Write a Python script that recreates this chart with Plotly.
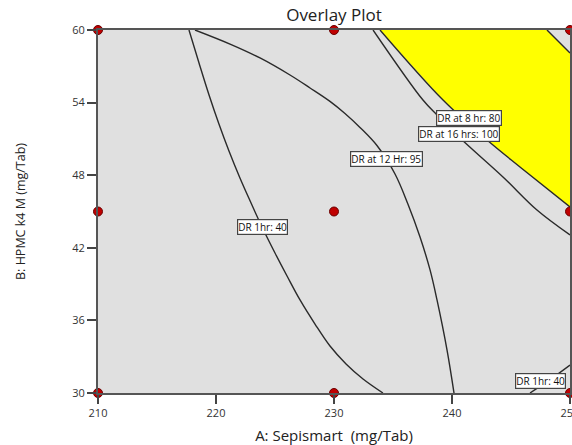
import plotly.graph_objects as go

# Design points (A: Sepismart, B: HPMC k4 M)
design_a = [210, 230, 250, 210, 230, 250, 210, 230, 250]
design_b = [60, 60, 60, 45, 45, 45, 30, 30, 30]

# Contour: DR 1hr = 40 (left branch)
dr1_left_a = [217.71, 218.56, 219.41, 220.25, 221.10, 222.03, 222.97, 223.90, 225.00, 226.02,
              227.12, 228.39, 229.66, 231.02, 232.46, 234.15]
dr1_left_b = [60.00, 57.27, 54.63, 52.23, 50.00, 47.77, 45.70, 43.72, 41.57, 39.67,
              37.69, 35.70, 33.88, 32.40, 31.16, 30.00]

# Contour: DR 1hr = 40 (lower-right branch)
dr1_right_a = [246.61, 248.30, 250.00]
dr1_right_b = [30.00, 31.10, 32.31]

# Contour: DR at 12 Hr = 95
dr12_a = [218.22, 221.19, 223.73, 226.27, 227.97, 229.66, 230.93, 232.20, 233.64, 235.17, 236.27, 237.29, 238.14, 238.73, 239.58, 240.17]
dr12_b = [60.00, 58.84, 57.69, 56.28, 55.21, 54.10, 53.10, 51.95, 50.45, 48.10, 45.60, 42.89, 40.17, 37.69, 33.55, 30.00]

# Contour: DR at 16 hrs = 100
dr16_a = [233.31, 237.54, 238.73, 240.68, 244.32, 247.20, 250.00]
dr16_b = [60.00, 54.21, 52.98, 51.07, 47.85, 45.12, 43.06]

# Contour: DR at 8 hr = 80 (edge of the design space)
dr8_a = [233.90, 239.24, 242.97, 245.76, 250.00]
dr8_b = [60.00, 54.21, 50.91, 48.68, 45.37]

# Upper-right corner contour
corner_a = [248.05, 250.00]
corner_b = [60.00, 58.10]

# Contour labels
label_text = ["DR 1hr: 40", "DR at 12 Hr: 95", "DR at 8 hr: 80", "DR at 16 hrs: 100", "DR 1hr: 40"]
label_a = [223.98, 234.49, 241.44, 240.59, 247.54]
label_b = [43.72, 49.34, 52.73, 51.40, 30.99]

x_ticks = [210, 220, 230, 240, 250]
y_ticks = [30, 36, 42, 48, 54, 60]

FONT = "Open Sans, Noto Sans, sans-serif"
LINE = "#2a2a2a"

fig = go.Figure()

# Yellow feasible region: top edge, corner contour, right edge, back along DR 8 hr contour
region_a = [dr8_a[0], corner_a[0], corner_a[1], dr8_a[-1]] + dr8_a[::-1]
region_b = [dr8_b[0], corner_b[0], corner_b[1], dr8_b[-1]] + dr8_b[::-1]
fig.add_trace(go.Scatter(x=region_a, y=region_b, mode="lines", fill="toself",
                         fillcolor="#ffff00", line=dict(color="rgba(0,0,0,0)", width=0),
                         hoverinfo="skip"))

for xs, ys in [(dr1_left_a, dr1_left_b), (dr1_right_a, dr1_right_b), (dr12_a, dr12_b),
               (dr16_a, dr16_b), (dr8_a, dr8_b), (corner_a, corner_b)]:
    fig.add_trace(go.Scatter(x=xs, y=ys, mode="lines",
                             line=dict(color=LINE, width=1.4, shape="spline", smoothing=1.0),
                             hoverinfo="skip"))

fig.add_trace(go.Scatter(x=design_a, y=design_b, mode="markers", cliponaxis=False,
                         marker=dict(size=9, color="#c00000",
                                     line=dict(color="#6a0000", width=1))))

for t, a, b in zip(label_text, label_a, label_b):
    fig.add_annotation(x=a, y=b, text=t, showarrow=False,
                       font=dict(family=FONT, size=10, color="#111"),
                       bgcolor="white", bordercolor="#444", borderwidth=1.2, borderpad=0)

fig.update_layout(
    width=572, height=445,
    margin=dict(l=98, r=2, t=30, b=52, autoexpand=False),
    paper_bgcolor="white", plot_bgcolor="#e0e0e0",
    showlegend=False,
    title=dict(text="Overlay Plot", x=334 / 572, xanchor="center",
               y=1 - 15 / 445, yanchor="middle",
               font=dict(family=FONT, size=17, color="#222")),
    font=dict(family=FONT, color="#333"),
)

fig.update_xaxes(range=[210, 250], tickvals=x_ticks, ticks="outside", ticklen=9,
                 tickwidth=1.5, tickcolor="#444", showgrid=False, zeroline=False,
                 showline=True, linecolor="#555", linewidth=1.5, mirror=True,
                 ticklabeloverflow="allow", automargin=False,
                 tickfont=dict(family=FONT, size=11, color="#333"),
                 title=dict(text="A: Sepismart  (mg/Tab)", standoff=12,
                            font=dict(family=FONT, size=15, color="#222")))
fig.update_yaxes(range=[30, 60], tickvals=y_ticks, ticks="outside", ticklen=9,
                 tickwidth=1.5, tickcolor="#444", showgrid=False, zeroline=False,
                 showline=True, linecolor="#555", linewidth=1.8, mirror=True,
                 automargin=False,
                 tickfont=dict(family=FONT, size=11, color="#333"),
                 title=dict(text="B: HPMC k4 M (mg/Tab)", standoff=44,
                            font=dict(family=FONT, size=12.5, color="#222")))

fig.write_html("out.html")
